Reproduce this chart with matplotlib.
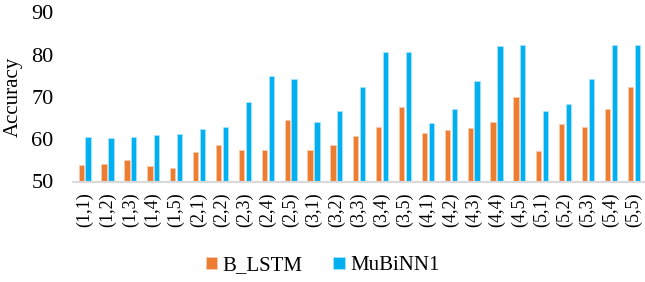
import matplotlib
matplotlib.use("Agg")
import matplotlib.pyplot as plt
import numpy as np

categories = ["(1,1)", "(1,2)", "(1,3)", "(1,4)", "(1,5)",
              "(2,1)", "(2,2)", "(2,3)", "(2,4)", "(2,5)",
              "(3,1)", "(3,2)", "(3,3)", "(3,4)", "(3,5)",
              "(4,1)", "(4,2)", "(4,3)", "(4,4)", "(4,5)",
              "(5,1)", "(5,2)", "(5,3)", "(5,4)", "(5,5)"]
b_lstm = [53.9, 54.2, 55.0, 53.6, 53.2,
          56.9, 58.6, 57.5, 57.5, 64.6,
          57.5, 58.6, 60.8, 62.9, 67.7,
          61.5, 62.3, 62.7, 64.2, 69.9,
          57.3, 63.7, 62.9, 67.2, 72.4]
mubinn1 = [60.6, 60.2, 60.6, 61.1, 61.2,
           62.4, 62.9, 68.9, 75.0, 74.2,
           64.2, 66.8, 72.3, 80.6, 80.6,
           63.9, 67.2, 73.9, 82.1, 82.4,
           66.8, 68.3, 74.2, 82.4, 82.4]
yticks = [50, 60, 70, 80, 90]

plt.rcParams['font.family'] = ['Liberation Serif', 'DejaVu Serif']

fig = plt.figure(figsize=(6.45, 2.82), dpi=100)
ax = fig.add_axes([73/645, 1 - 181.5/282, 572/645, (181.5 - 12.5)/282])

x = np.arange(len(categories))
w = 0.23
ax.bar(x - 0.14, b_lstm, width=w, color='#ED7D31', edgecolor='#F8CBAD', linewidth=0.6, label='B_LSTM')
ax.bar(x + 0.16, mubinn1, width=w, color='#00B0F0', edgecolor='#A6E3FA', linewidth=0.6, label='MuBiNN1')

ax.set_xlim(-0.5, len(categories) - 0.5)
ax.set_ylim(50, 90)
ax.set_yticks(yticks)
ax.set_yticklabels([str(t) for t in yticks], fontsize=16)
ax.set_xticks(x)
ax.set_xticklabels(categories, rotation=90, fontsize=13)
ax.tick_params(axis='both', length=0)
ax.tick_params(axis='y', pad=14)
ax.tick_params(axis='x', pad=8)
for s in ['top', 'right', 'left']:
    ax.spines[s].set_visible(False)
ax.spines['bottom'].set_color('#D9D9D9')
ax.spines['bottom'].set_linewidth(1.5)
ax.set_ylabel('Accuracy', fontsize=15)
ax.yaxis.set_label_coords(-(73 - 23) / 572, 0.5)

fig.legend(loc='center', bbox_to_anchor=(0.5, 1 - 266/282), ncol=2, frameon=False,
           fontsize=15, handlelength=0.55, handleheight=0.55, handletextpad=0.25, columnspacing=1.5)

fig.savefig('out.png', dpi=100)
